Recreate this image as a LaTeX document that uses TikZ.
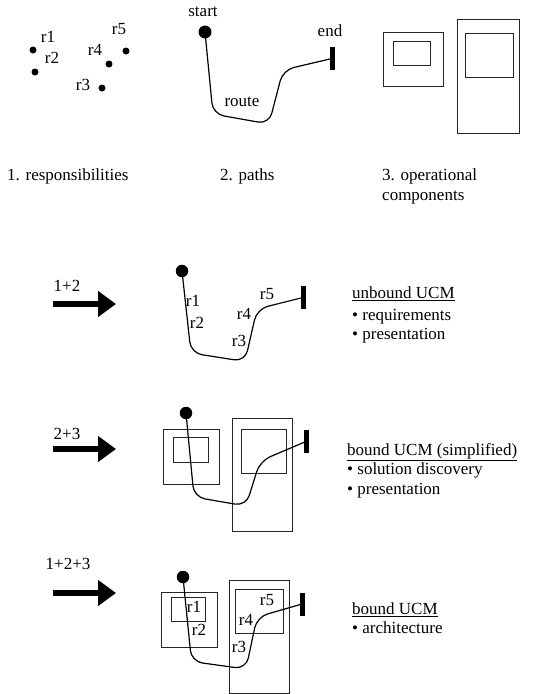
\documentclass[tikz,border=0pt]{standalone}
\usepackage{fontspec}
\setmainfont{Liberation Serif}
\usetikzlibrary{arrows.meta}
\begin{document}
\begin{tikzpicture}[x=1pt,y=-1pt,
  lbl/.style={font=\fontsize{17}{19}\selectfont, inner sep=0pt, text height=0.68em, text depth=0pt},
  lblw/.style={lbl, anchor=west},
  rdot/.style={circle, fill=black, inner sep=0pt, minimum size=7pt},
  sdot/.style={circle, fill=black, inner sep=0pt, minimum size=12.5pt},
  endbar/.style={rectangle, fill=black, inner sep=0pt, minimum width=5pt, minimum height=23pt},
  route/.style={line width=1.2pt, rounded corners=11pt},
  box/.style={draw=black!85, line width=0.9pt},
  bigarrow/.style={line width=6pt, -{Triangle[length=18pt,width=25pt]}}]
\useasboundingbox (0,0) rectangle (554,694);

% ---------- panel 1: responsibilities
\node[rdot] (p1) at (33,50) {};
\node[rdot] (p2) at (35,72) {};
\node[rdot] (p3) at (102,88) {};
\node[rdot] (p4) at (109,64) {};
\node[rdot] (p5) at (126,51) {};
\node[lbl] (l1) at (48,39) {r1};
\node[lbl] (l2) at (52,60) {r2};
\node[lbl] (l3) at (83,87) {r3};
\node[lbl] (l4) at (95,52) {r4};
\node[lbl] (l5) at (119,31) {r5};

% ---------- panel 2: paths
\node[sdot, minimum size=13pt] (s0) at (205,32) {};
\node[endbar] (e0) at (332,58.5) {};
\node[lbl] (st0) at (203,13) {start};
\node[lbl] (en0) at (330,33) {end};
\node[lbl] (ro0) at (242,103) {route};
\draw[route] (s0.center) -- (213,114) -- (269,124) -- (283,70) -- (e0.center);

% ---------- panel 3: components
\draw[box] (383,32) rectangle (443,86);
\draw[box] (393,41) rectangle (430,65);
\draw[box] (457,19) rectangle (519,133);
\draw[box] (465,33) rectangle (513,77);

% ---------- captions
\node[lblw] (c1) at (7,177) {1. responsibilities};
\node[lblw] (c2) at (220,177) {2. paths};
\node[lblw] (c3) at (382,177) {3. operational};
\node[lblw] (c3b) at (382,197) {components};

% ---------- row 2: 1+2
\coordinate (a1s) at (53,304);
\coordinate (a1e) at (116,304);
\draw[bigarrow] (a1s) -- (a1e);
\node[lbl] (a1l) at (67,288) {1+2};
\node[sdot] (s1) at (182,271) {};
\node[endbar] (e1) at (303,297.5) {};
\draw[route] (s1.center) -- (191,353) -- (245,361.5) -- (257,309) -- (e1.center);
\node[lbl] at (193,303) {r1};
\node[lbl] at (197,325) {r2};
\node[lbl] at (239,343) {r3};
\node[lbl] at (244,316) {r4};
\node[lbl] at (267,296) {r5};
\node[lblw] (t1) at (352,295) {\underline{unbound UCM}};
\node[lblw] (t1a) at (352,317) {\textbullet\ requirements};
\node[lblw] (t1b) at (352,336) {\textbullet\ presentation};

% ---------- row 3: 2+3
\coordinate (a2s) at (53,449);
\coordinate (a2e) at (116,449);
\draw[bigarrow] (a2s) -- (a2e);
\node[lbl] (a2l) at (67,436) {2+3};
\draw[box] (163,429) rectangle (219,484);
\draw[box] (173,437) rectangle (208,462);
\draw[box] (232,418) rectangle (292,531);
\draw[box] (241,429) rectangle (286,473);
\node[sdot] (s2) at (186,413) {};
\node[endbar] (e2) at (306,441.5) {};
\draw[route] (s2.center) -- (194,497) -- (246,506) -- (260,461) -- (e2.center);
\node[lblw] (t2) at (347,452) {\underline{bound UCM (simplified)}};
\node[lblw] (t2a) at (347,471) {\textbullet\ solution discovery};
\node[lblw] (t2b) at (347,491) {\textbullet\ presentation};

% ---------- row 4: 1+2+3
\coordinate (a3s) at (53,593);
\coordinate (a3e) at (116,593);
\draw[bigarrow] (a3s) -- (a3e);
\node[lbl] (a3l) at (68,566) {1+2+3};
\draw[box] (161,592) rectangle (217,647);
\draw[box] (171,597) rectangle (205,621);
\draw[box] (229,580) rectangle (289,693);
\draw[box] (235,589) rectangle (283,633);
\node[sdot] (s3) at (183,577) {};
\node[endbar] (e3) at (302,604) {};
\draw[route] (s3.center) -- (191.5,661.5) -- (246,669) -- (257,617) -- (e3.center);
\node[lbl] at (194,609) {r1};
\node[lbl] at (199,632) {r2};
\node[lbl] at (239,649) {r3};
\node[lbl] at (246,622) {r4};
\node[lbl] at (267,602) {r5};
\node[lblw] (t3) at (352,611) {\underline{bound UCM}};
\node[lblw] (t3a) at (352,630) {\textbullet\ architecture};
\end{tikzpicture}
\end{document}
